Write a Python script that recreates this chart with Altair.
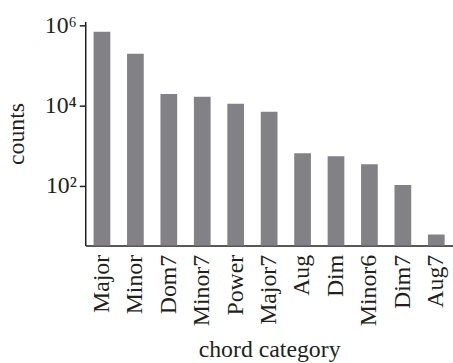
import altair as alt
import pandas as pd

# Chord category counts (log scale)
categories = ["Major", "Minor", "Dom7", "Minor7", "Power", "Major7",
              "Aug", "Dim", "Minor6", "Dim7", "Aug7"]
counts = [700000, 195000, 19300, 16500, 11100, 7000,
          640, 540, 343, 104, 6]
y_floor = 3.2  # lower end of the log axis, bars start here
y_ceiling = 1.26e6

df = pd.DataFrame({"category": categories, "counts": counts})

FONT = "Liberation Serif"
INK = "#231f20"

sup = "{'2': '\u00b2', '4': '\u2074', '6': '\u2076'}"
label_expr = "'10' + " + sup + "[format(log(datum.value) / LN10, '.0f')]"

chart = alt.Chart(df).mark_bar(color="#828286").encode(
    x=alt.X(
        "category:N",
        sort=categories,
        scale=alt.Scale(paddingInner=0.5, paddingOuter=0.25),
        axis=alt.Axis(
            title="chord category",
            labelAngle=-90,
            labelAlign="right",
            labelBaseline="middle",
            labelPadding=9,
            ticks=False,
            titlePadding=12,
        ),
    ),
    y=alt.Y(
        "counts:Q",
        scale=alt.Scale(type="log", domain=[y_floor, y_ceiling], nice=False),
        axis=alt.Axis(
            title="counts",
            values=[100, 10000, 1000000],
            labelExpr=label_expr,
            tickSize=6,
            labelPadding=3,
            titlePadding=16,
        ),
    ),
    y2=alt.datum(y_floor),
).properties(
    width=371,
    height=226,
    autosize=alt.AutoSizeParams(type="none"),
    padding={"left": 86, "top": 20, "right": 0, "bottom": 117},
).configure_view(
    stroke=None,
).configure_axis(
    grid=False,
    domainColor=INK,
    domainWidth=1.5,
    tickColor=INK,
    tickWidth=1.5,
    labelFont=FONT,
    titleFont=FONT,
    labelFontSize=24,
    titleFontSize=24,
    titleFontWeight="normal",
    labelColor=INK,
    titleColor=INK,
    labelFlush=False,
    labelOverlap=False,
)

chart.save("out.html", embed_options={"renderer": "svg", "actions": False})
